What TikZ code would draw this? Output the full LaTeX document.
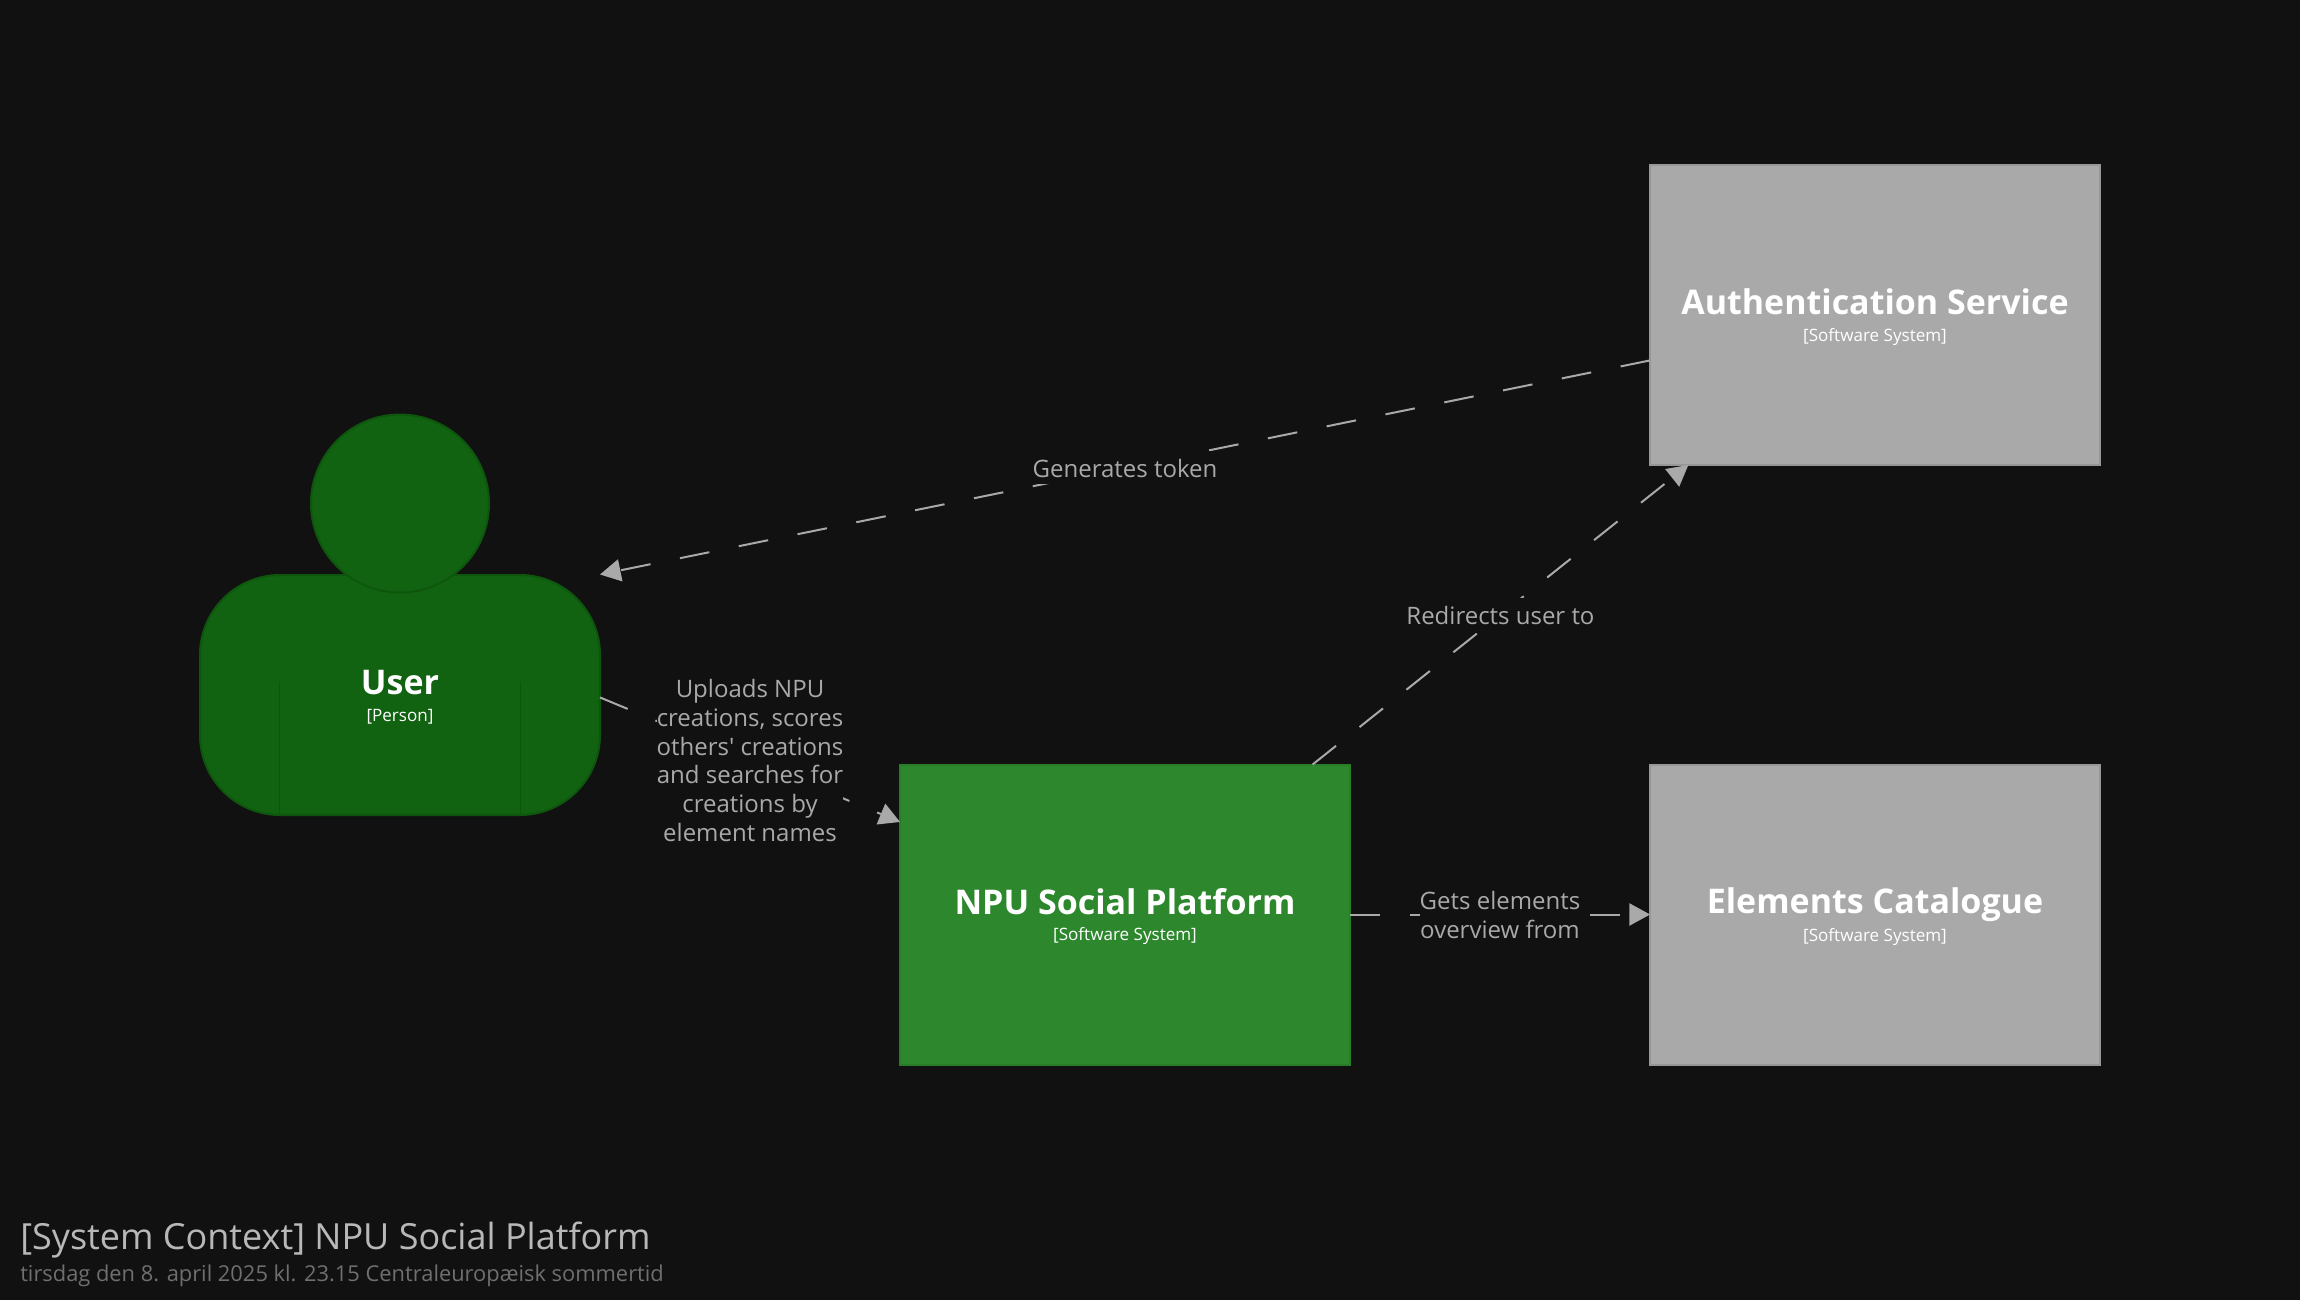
\documentclass[tikz,border=0pt]{standalone}
\usepackage{fontspec}
\setmainfont{Open Sans}
\newfontfamily\plainlab{Open Sans}
\usetikzlibrary{arrows.meta}
\definecolor{bgc}{HTML}{111111}
\definecolor{personfill}{HTML}{116211}
\definecolor{personline}{HTML}{0E560E}
\definecolor{npufill}{HTML}{2D882D}
\definecolor{npuline}{HTML}{297D29}
\definecolor{grayfill}{HTML}{A9A9A9}
\definecolor{grayline}{HTML}{979797}
\definecolor{titlec}{HTML}{B8B8B8}
\definecolor{datec}{HTML}{6F6F6F}
\newcommand{\namefont}{\fontsize{25.5}{30}\bfseries\selectfont}
\newcommand{\metafont}{\fontsize{12.8}{14.4}\mdseries\selectfont}
\newcommand{\labelfont}{\plainlab\fontsize{18}{21.6}\selectfont}
\newcommand{\boxlabel}[2]{{\namefont\rule[-5.25pt]{0pt}{29.6pt}#1}\\\metafont\rule[-5pt]{0pt}{18.8pt}#2}
\newcommand{\labtop}{\rule{0pt}{19.65pt}}
\newcommand{\labbot}{\rule[-5.1pt]{0pt}{5.1pt}}
\tikzset{
  x=0.75pt,y=-0.75pt,
  sysbox/.style={rectangle,draw=#1,line width=1.5pt,minimum width=337.5pt,minimum height=225pt,
    outer sep=0pt,inner sep=0pt,align=center,text=white},
  graybox/.style={sysbox=grayline,fill=grayfill},
  npubox/.style={sysbox=npuline,fill=npufill},
  personmark/.style={rectangle,minimum width=300pt,minimum height=301.5pt,outer sep=0pt,inner sep=0pt},
  personpart/.style={draw=personline,fill=personfill,line width=1.5pt},
  rel/.style={draw=grayfill,line width=1.5pt,dash pattern=on 22.5pt off 22.5pt,
    -{Triangle[length=15.5pt,width=17pt,line width=0pt,fill=grayfill]}},
  rellabel/.style={midway,fill=bgc,text=grayfill,inner sep=0pt,outer sep=0pt,align=center,font=\labelfont},
}
\begin{document}
\begin{tikzpicture}
\fill[bgc] (0,0) rectangle (2300,1300);
\useasboundingbox (0,0) rectangle (2300,1300);
% person
\node[personmark] (user) at (400,615) {};
\draw[personpart,rounded corners=60pt] (200,575) rectangle (600,815);
\draw[personline,line width=0.75pt] (279.5,682) -- (279.5,815) (520.5,682) -- (520.5,815);
\draw[personpart] (400,503.5) circle [radius=66.75pt];
\node[text=white,align=center,inner sep=0pt] (usertext) at (400,694.8) {\boxlabel{User}{[Person]}};
% systems
\node[npubox] (npu) at (1125,914.5) {\boxlabel{NPU Social Platform}{[Software System]}};
\node[graybox] (auth) at (1875,315) {\boxlabel{Authentication Service}{[Software System]}};
\node[graybox] (cat) at (1875,914.5) {\boxlabel{Elements Catalogue}{[Software System]}};
% relations
\draw[rel] (auth) -- node[rellabel]{\labtop Generates token\labbot} (user);
\draw[rel] (user) -- node[rellabel]{\labtop Uploads NPU\\creations, scores\\others' creations\\and searches for\\creations by\\element names\labbot} (npu);
\draw[rel] (npu) -- node[rellabel]{\labtop Redirects user to\labbot} (auth);
\draw[rel] (npu) -- node[rellabel]{\labtop Gets elements\\overview from\labbot} (cat);
% title
\node[anchor=base west,text=titlec,inner sep=0pt,font=\fontsize{27}{32}\selectfont] (title) at (20,1249) {[System Context] NPU Social Platform};
\node[anchor=base west,text=datec,inner sep=0pt,font=\fontsize{16.4}{20}\selectfont] (date) at (20,1281) {tirsdag den 8. april 2025 kl. 23.15 Centraleuropæisk sommertid};
\end{tikzpicture}
\end{document}
